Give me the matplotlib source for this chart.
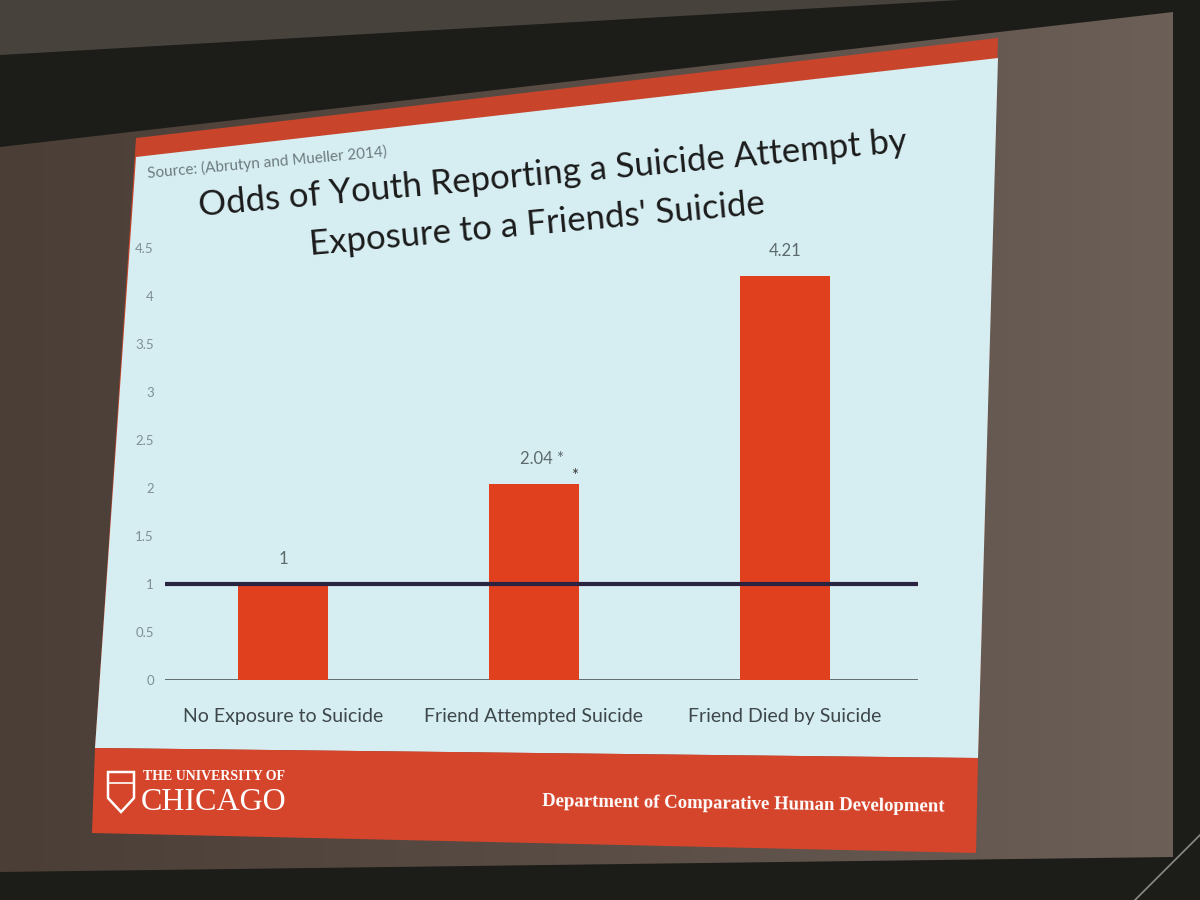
import matplotlib
matplotlib.use('Agg')
import matplotlib.pyplot as plt
import numpy as np
from matplotlib.patches import Polygon
from matplotlib.colors import LinearSegmentedColormap

# ---------------- data ----------------
categories = ["No Exposure to Suicide", "Friend Attempted Suicide", "Friend Died by Suicide"]
odds = [1, 2.04, 4.21]
value_labels = ["1", "2.04 *", "4.21"]
reference_odds = 1
yticks = [0, 0.5, 1, 1.5, 2, 2.5, 3, 3.5, 4, 4.5]
ytick_labels = ["0", "0.5", "1", "1.5", "2", "2.5", "3", "3.5", "4", "4.5"]
title_lines = ["Odds of Youth Reporting a Suicide Attempt by",
               "Exposure to a Friends' Suicide"]
source_text = "Source: (Abrutyn and Mueller 2014)"
footer_left_small = "THE UNIVERSITY OF"
footer_left_big = "CHICAGO"
footer_right = "Department of Comparative Human Development"

# ---------------- styles ----------------
BAR = '#e1401f'
RED = '#d5452b'
SLIDE = '#d6eef2'
TITLE_FONT = ['Lato', 'DejaVu Sans']
SERIF = ['Liberation Serif', 'DejaVu Serif']

fig = plt.figure(figsize=(12, 9), dpi=100)
fig.patch.set_facecolor('#1c1c18')

# background "room" / projector screen (decoration)
bg = fig.add_axes([0, 0, 1, 1])
bg.set_xlim(0, 1200)
bg.set_ylim(900, 0)
bg.axis('off')

bg.add_patch(Polygon([(0, 0), (960, 0), (0, 55)], closed=True,
                     facecolor='#48423d', edgecolor='none', zorder=1))
screen = Polygon([(0, 147), (1173, 12), (1173, 857), (0, 872)], closed=True,
                 facecolor='none', edgecolor='none', zorder=2)
bg.add_patch(screen)
grad = np.tile(np.linspace(0, 1, 256), (10, 1))
cmap = LinearSegmentedColormap.from_list('scr', ['#4a3e36', '#5a4d45', '#6c6058'])
im = bg.imshow(grad, extent=(0, 1200, 900, 0), aspect='auto', cmap=cmap, zorder=2)
im.set_clip_path(screen)

# slide
bg.add_patch(Polygon([(136, 138), (998, 38), (978, 758), (95, 748)], closed=True,
                     facecolor='#c8452c', edgecolor='none', zorder=3))
bg.add_patch(Polygon([(136, 157), (998, 58), (978, 758), (95, 748)], closed=True,
                     facecolor=SLIDE, edgecolor='none', zorder=4))
bg.add_patch(Polygon([(95, 748), (978, 758), (976, 853), (92, 833)], closed=True,
                     facecolor=RED, edgecolor='none', zorder=4))
bg.plot([1200, 1135], [835, 900], color='#8a8a86', lw=1.2, zorder=5)

# title and source
bg.text(148, 178, source_text, rotation=5.2, rotation_mode='anchor',
        ha='left', va='baseline', fontsize=11, color='#6d7b7e',
        family=TITLE_FONT, zorder=6)
bg.text(553, 174, title_lines[0], rotation=5.2, rotation_mode='anchor',
        ha='center', va='center', fontsize=25, color='#1b1b1b',
        family=TITLE_FONT, zorder=6)
bg.text(537, 224, title_lines[1], rotation=5.2, rotation_mode='anchor',
        ha='center', va='center', fontsize=25, color='#1b1b1b',
        family=TITLE_FONT, zorder=6)

# footer
shield = Polygon([(108, 772), (134, 772), (134, 798), (121, 812), (108, 798)],
                 closed=True, facecolor='none', edgecolor='white', lw=1.8, zorder=6)
bg.add_patch(shield)
bg.plot([108, 134], [783, 783], color='white', lw=1.2, zorder=6)
bg.text(143, 777, footer_left_small, ha='left', va='center', fontsize=10,
        fontweight='bold', color='white', family=SERIF, zorder=6)
bg.text(141, 802, footer_left_big, ha='left', va='center', fontsize=23,
        color='white', family=SERIF, zorder=6)
bg.text(743, 804, footer_right, ha='center', va='center', fontsize=13.5,
        fontweight='bold', color='white', family=SERIF, rotation=-0.8,
        rotation_mode='anchor', zorder=6)

# ---------------- chart ----------------
px_unit = 96
ymax = 4.7
base_y = 680
ax = fig.add_axes([165 / 1200, 1 - base_y / 900, 753 / 1200, ymax * px_unit / 900])
ax.set_facecolor('none')
x = np.arange(len(categories))
ax.bar(x, odds, width=0.36, color=BAR, zorder=2)
ax.axhline(reference_odds, color='#2a2440', lw=3, zorder=3)
ax.axhline(0, color='#5b6364', lw=1.3, zorder=1)
ax.set_xlim(-0.47, 2.53)
ax.set_ylim(0, ymax)
ax.set_yticks(yticks, ytick_labels)
ax.set_xticks(x, categories)
ax.tick_params(axis='y', length=0, labelsize=9.5, labelcolor='#7f8f92', pad=8)
ax.tick_params(axis='x', length=0, labelsize=14, labelcolor='#3e4749', pad=20)
for lab in ax.get_xticklabels() + ax.get_yticklabels():
    lab.set_family(TITLE_FONT)
for s in ax.spines.values():
    s.set_visible(False)

for xi, v, lab in zip(x, odds, value_labels):
    ax.annotate(lab, (xi, v), xytext=(6 if '*' in lab else 0, 12),
                textcoords='offset points', ha='center', va='bottom',
                fontsize=12, color='#5d6a6c', family=TITLE_FONT)
    if '*' in lab:
        ax.annotate('*', (xi + 0.16, v), xytext=(0, 0),
                    textcoords='offset points', ha='center', va='bottom',
                    fontsize=12, color='#3a3a3a', family=TITLE_FONT)

fig.savefig('out.png', dpi=100, facecolor=fig.get_facecolor())
